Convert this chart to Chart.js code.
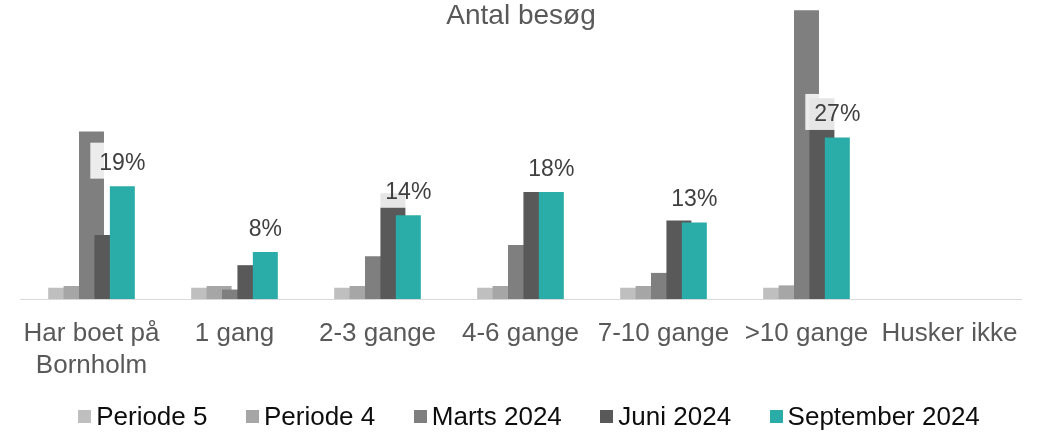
<!DOCTYPE html>
<html><head><meta charset="utf-8">
<script src="https://cdn.jsdelivr.net/npm/chart.js@4/dist/chart.umd.min.js"></script>
<style>html,body{margin:0;padding:0;background:#fff;}#wrap{width:1048px;height:432px;}</style>
</head><body><div id="wrap"><canvas id="c" width="1048" height="432"></canvas></div>
<script>
const titleText = 'Antal besøg';
const categories = [['Har boet på', 'Bornholm'], '1 gang', '2-3 gange', '4-6 gange', '7-10 gange', '>10 gange', 'Husker ikke'];
const seriesNames = ['Periode 5', 'Periode 4', 'Marts 2024', 'Juni 2024', 'September 2024'];
const periode5 = [1.9, 1.9, 1.9, 1.9, 1.9, 1.9, null];
const periode4 = [2.2, 2.2, 2.2, 2.2, 2.2, 2.3, null];
const marts2024 = [28.2, 1.6, 7.2, 9.1, 4.4, 48.6, null];
const juni2024 = [10.8, 5.7, 17.8, 18.0, 13.2, 33.8, null];
const september2024 = [19.0, 7.9, 14.1, 18.0, 12.9, 27.2, null];
const colors = ['#bfbfbf', '#a6a6a6', '#7f7f7f', '#595959', '#2aaca8'];
const FONT = '"Liberation Sans", Arial, sans-serif';

const seriesData = [periode5, periode4, marts2024, juni2024, september2024];

function drawValueLabels(chart) {
  const ctx = chart.ctx;
  const meta = chart.getDatasetMeta(4);
  ctx.save();
  ctx.font = '23px ' + FONT;
  meta.data.forEach((bar, i) => {
    const v = september2024[i];
    if (v == null) return;
    const txt = Math.round(v) + '%';
    const w = ctx.measureText(txt).width;
    const bw = w + 18, bh = 36;
    const cx = bar.x;
    const bottom = bar.y - 7.5;
    const top = bottom - bh;
    ctx.fillStyle = 'rgba(255,255,255,0.85)';
    ctx.fillRect(cx - bw / 2, top, bw, bh);
    ctx.fillStyle = '#404040';
    ctx.textAlign = 'center';
    ctx.textBaseline = 'alphabetic';
    ctx.fillText(txt, cx, top + 27.5);
  });
  ctx.restore();
}

const orderPlugin = {
  id: 'drawOrder',
  beforeDatasetsDraw(chart) {
    const metas = chart.getSortedVisibleDatasetMetas().slice().sort((a, b) => a.index - b.index);
    for (const m of metas) m.controller.draw();
    drawValueLabels(chart);
    return false;
  }
};

const decoPlugin = {
  id: 'deco',
  afterDraw(chart) {
    const ctx = chart.ctx;
    ctx.save();
    // title
    ctx.font = '28px ' + FONT;
    ctx.fillStyle = '#595959';
    ctx.textAlign = 'center';
    ctx.textBaseline = 'alphabetic';
    ctx.fillText(titleText, 521, 24);
    // legend
    ctx.font = '26px ' + FONT;
    ctx.textAlign = 'left';
    const mk = 13, mg = 5, ig = 38.5;
    const items = seriesNames.map((n, i) => ({ n, w: ctx.measureText(n).width, c: colors[i] }));
    let total = items.reduce((s, it) => s + mk + mg + it.w, 0) + ig * (items.length - 1);
    let x = 529 - total / 2;
    const yc = 416.5;
    items.forEach(it => {
      ctx.fillStyle = it.c;
      ctx.fillRect(Math.round(x), Math.round(yc - mk / 2), mk, mk);
      ctx.fillStyle = '#0d0d0d';
      ctx.fillText(it.n, x + mk + mg, 425);
      x += mk + mg + it.w + ig;
    });
    ctx.restore();
  }
};

new Chart(document.getElementById('c'), {
  type: 'bar',
  data: {
    labels: categories,
    datasets: seriesNames.map((name, i) => ({
      label: name,
      data: seriesData[i],
      backgroundColor: colors[i],
      borderWidth: 0
    }))
  },
  options: {
    responsive: false,
    animation: false,
    devicePixelRatio: 1,
    layout: { padding: { top: 2, left: 20, right: 27, bottom: 31 } },
    datasets: { bar: { barPercentage: 1.62, categoryPercentage: 0.539 } },
    plugins: { legend: { display: false }, title: { display: false }, tooltip: { enabled: false } },
    scales: {
      x: {
        grid: { display: false, drawTicks: false },
        border: { display: true, color: '#d9d9d9', width: 1 },
        ticks: { color: '#595959', font: { family: FONT, size: 26, lineHeight: 1.23 }, padding: 19, maxRotation: 0, autoSkip: false }
      },
      y: { display: false, min: 0, max: 50 }
    }
  },
  plugins: [orderPlugin, decoPlugin]
});
</script>
</body></html>
